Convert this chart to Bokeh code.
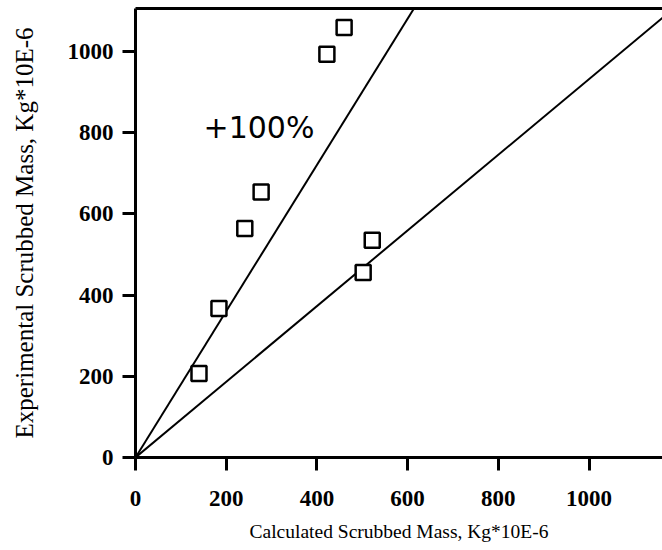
from bokeh.plotting import figure
from bokeh.models import LinearAxis, FixedTicker, Range1d, ColumnDataSource
from bokeh.core.properties import value
from bokeh.embed import file_html
from bokeh.resources import INLINE

# Data
calc_mass = [140, 184, 241, 277, 422, 460, 502, 522]
exp_mass = [207, 367, 564, 654, 993, 1059, 456, 535]

# Reference lines (through the origin)
upper_line_x = [0, 614]
upper_line_y = [0, 1106]
lower_line_x = [0, 1164]
lower_line_y = [0, 1085]

tick_values = [0, 200, 400, 600, 800, 1000]
annotation_text = ["+100%"]
annotation_x = [150]
annotation_y = [813]

x_label = "Calculated Scrubbed Mass, Kg*10E-6"
y_label = "Experimental Scrubbed Mass, Kg*10E-6"

p = figure(width=662, height=550, output_backend="svg", toolbar_location=None,
           x_range=Range1d(0, 1162), y_range=Range1d(0, 1106),
           min_border_left=135, min_border_right=0, min_border_top=8,
           min_border_bottom=93)
p.outline_line_color = None
p.grid.visible = False
p.background_fill_color = "white"
p.border_fill_color = "white"

for ax in (p.xaxis[0], p.yaxis[0]):
    ax.ticker = FixedTicker(ticks=tick_values)
    ax.axis_line_width = 3
    ax.axis_line_color = "black"
    ax.major_tick_line_width = 3
    ax.major_tick_line_color = "black"
    ax.major_tick_in = 0
    ax.major_tick_out = 13
    ax.minor_tick_line_color = None
    ax.major_label_text_font = "Liberation Serif"
    ax.major_label_text_font_style = "bold"
    ax.major_label_text_font_size = "23px"
    ax.major_label_text_color = "black"
    ax.axis_label_text_font = "Liberation Serif"
    ax.axis_label_text_font_style = "normal"
    ax.axis_label_text_color = "black"

p.xaxis.axis_label = x_label
p.xaxis.major_label_standoff = 20
p.xaxis.axis_label_text_font_size = "19.5px"
p.xaxis.axis_label_standoff = 12

p.yaxis.axis_label = y_label
p.yaxis.major_label_standoff = 9
p.yaxis.axis_label_text_font_size = "25px"
p.yaxis.axis_label_standoff = 27
p.yaxis.major_label_orientation = "horizontal"

top = LinearAxis(ticker=FixedTicker(ticks=[]), major_label_text_font_size="0px",
                 major_tick_line_color=None, minor_tick_line_color=None,
                 axis_line_width=3, axis_line_color="black")
p.add_layout(top, "above")

p.line(upper_line_x, upper_line_y, line_color="black", line_width=2)
p.line(lower_line_x, lower_line_y, line_color="black", line_width=2)

src = ColumnDataSource(dict(x=calc_mass, y=exp_mass))
p.scatter("x", "y", source=src, marker="square", size=15, fill_color="white",
          line_color="black", line_width=2.5)

p.text(annotation_x, annotation_y, text=annotation_text,
       text_font=value("DejaVu Sans"), text_font_size="30px",
       text_baseline="alphabetic", text_align="left", text_color="black")

open("out.html", "w").write(file_html(p, INLINE))
